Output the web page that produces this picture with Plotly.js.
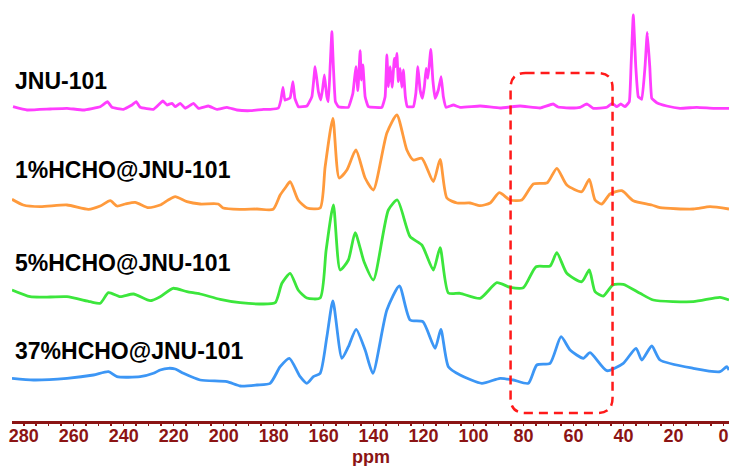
<!DOCTYPE html>
<html><head><meta charset="utf-8">
<script src="https://cdn.plot.ly/plotly-3.0.1.min.js"></script>
<style>html,body{margin:0;padding:0;background:#fff}#chart{width:729px;height:466px}</style>
</head><body><div id="chart"></div>
<script>
// Series names
const seriesNames = ["JNU-101", "1%HCHO@JNU-101", "5%HCHO@JNU-101", "37%HCHO@JNU-101"];
const seriesColors = ["#FF3DFF", "#FF9A3C", "#3CE63C", "#3C96F5"];

// JNU-101 (chemical shift in ppm, relative intensity)
const ppmJNU = [284.3,278.7,269.4,262.7,256.1,249.4,246.5,244.7,240.1,236.7,235,233.4,228.1,224.3,222.7,220.7,219.4,217.4,215.4,212.1,210.1,206.1,202.7,198.7,194.7,189.4,184.1,181.4,178.1,177.1,176.3,175.5,174.5,173.4,172.3,171.5,170.1,166.7,164.7,163.4,162.1,161.1,160.3,159.7,158.7,158.1,157.4,156.7,156.1,155.3,154.1,150.1,148.3,147.1,146.3,145.4,144.9,144.3,143.4,142.1,136.7,135.4,134.7,134.1,133.4,132.6,131.7,131.3,130.7,130.1,129.4,128.7,128.1,127.3,126.5,124.1,123.1,122.3,121.4,120.5,119.7,119,118.3,117.1,116.3,115.4,114.1,113,112.1,111,108.1,105.4,97.4,89.4,81.4,73.4,68.2,66.2,61.4,57.4,54.7,52.1,46.7,44.5,42.7,41.1,39.4,37.7,37,36.1,35.1,34.1,32.7,31.4,30.5,29.5,28.7,26.7,22.7,17.4,10.7,4.1,-2.2];
const intJNU = [0.3,-3,-2,-1.3,-3,0.3,5.3,-0.3,-2.3,2,5.3,-0.3,-2.3,6,2,3.7,0.3,3.7,-1.3,3.7,-1.3,1,-2.3,-0.3,-3,-3.7,-2.3,-2.3,-1,7,19.7,7,7.7,9.3,25.3,8.7,0.3,1,10.3,40.3,15.3,7,20.3,32,10.3,5.3,40.3,75.3,40.3,5.3,0.3,-0.3,13.7,40.3,16.3,56.3,27,42,10.3,0.3,-0.3,10.3,52,20.3,40.3,19.7,48.7,40.3,53.7,25.3,38.7,19.7,37,10.3,0.3,0.3,13.7,40.3,17,8.7,20.3,38.7,28.7,57.7,27,8.7,17,30.3,10.3,-0.3,2,-0.3,1,-1,1,-1,3,0,-1,-0.3,3,-1.3,-0.3,3.7,0.3,3,0.3,5.3,40.3,92,40.3,10.3,7.7,40.3,74.7,40.3,8.7,4.3,1,-1.3,-0.3,-1.3,-1.3];

// 1%HCHO@JNU-101
const ppm1 = [284.7,280.2,273.4,262.7,254.1,249.4,245.4,242.7,239.4,235.4,230.1,225.4,222.2,219.4,214.7,209.4,202.2,200.2,193.4,186.7,180.2,177.4,175.4,173.4,170.2,166.6,161.4,159.4,156.3,153.8,150.7,147.1,143.4,140.1,134.7,130.7,126.7,124.1,120.7,116.1,113.4,110.7,106.6,101.4,97.4,93.4,89.7,85.4,80.7,76.1,70.5,66.7,62.7,56.7,53.7,51.4,48.7,45.4,40.7,36.1,28.7,25.4,12.1,5.4,-2.2];
const int1 = [9.7,4,2.3,4,-0.3,3,8.3,3,5,6.7,1.3,4,9,12.3,7.3,5,5,1,-0.3,0,-0.3,14,21,27.3,9,1,1,42.3,90.7,31,39,59,31,19,76,94,59,49,50.7,27.3,49.7,11,6,6,3.3,6,16.3,9,9,25,26.3,40.7,24,17.3,29.7,9,5,15,18.3,8.3,4,1.3,0,2.3,0];

// 5%HCHO@JNU-101
const ppm5 = [284.7,277.4,269.4,262.7,253.4,249.4,246.1,241.4,236.1,229.4,225.4,220.3,214.7,209.4,201.4,193.4,185.4,179.4,176.7,173.4,170.2,166.7,161.4,159,156.1,153.4,150.1,147.4,143.8,140.1,134.1,130.5,125.4,120.7,116.1,113.4,110.1,105.4,97.4,90.7,85.4,80.1,75,69.4,66.7,62.7,56.7,53.7,51.4,48.1,44.3,40.1,33.4,28.1,12.1,1.4,-2.2];
const int5 = [10,3.3,3,3.3,-1.7,-3.3,7.3,3.3,6,-0.7,3.3,11.7,8.3,6,0.7,-2.7,-4,-2.7,16.7,26.7,10,2,2,50,95,30,40,67.3,38,20,90,100,63.3,55,30,52.3,7,6.7,1.7,17.3,12.7,12.3,33.3,34,47.3,26.7,18.3,30,8.3,4,15,15.7,6.7,0,-1.7,2.7,0];

// 37%HCHO@JNU-101
const ppm37 = [284.7,276.1,262.7,252.1,246.1,242.7,233.4,228.1,225.4,222.1,219.4,216.1,209.4,198.7,193.4,186.7,181.4,177.4,173.7,169.4,166.7,164.1,161.4,158.7,156.3,152.7,150.1,147,143.4,140.3,134.7,129.7,125.4,120.3,115.4,113.1,110.1,105.4,96.7,89.4,84.1,78.1,74.7,69.4,65,61.4,56.1,53.4,46.7,40.1,35,32.7,28.7,25.4,12.1,1.4,-1.3,-2.2];
const int37 = [1.7,0,1.7,5,8.3,3.3,3.3,6.7,10,11.7,11,6.7,0,-1.7,-6,-5,-3.3,13.3,21.7,3.3,-3.3,3.3,6.7,43.3,79,21.7,33.3,50.7,30,6.7,70,94,60,58.3,31.7,50.7,13.3,5,-3.3,1.7,0,-3.3,15,16.7,43.3,30,21.7,27.3,9.3,16.7,31.7,20,34,20,11.7,8.3,13.3,10];

// Highlighted region (ppm)
const boxPpm = [85.2, 44.4];
const tickVals = [280,260,240,220,200,180,160,140,120,100,80,60,40,20,0];

const ppmSets = [ppmJNU, ppm1, ppm5, ppm37];
const intSets = [intJNU, int1, int5, int37];
const offsets = [314, 212, 121, 41];
const labelY = [340, 251, 158, 70];

const axisRed = "#8B1414";
const FONT = "Liberation Sans, Arial, sans-serif";
const traces = ppmSets.map((p, i) => ({
  type: "scatter", mode: "lines", x: p,
  y: intSets[i].map(v => v + offsets[i]),
  line: {color: seriesColors[i], width: 2.8, shape: "spline", smoothing: i === 0 ? 0.3 : 0.6},
  name: seriesNames[i], hoverinfo: "skip"
}));
// empty trace so the tick-mark axis is drawn
traces.push({type: "scatter", mode: "lines", x: [], y: [], xaxis: "x2", hoverinfo: "skip"});

const x1 = boxPpm[0], x2 = boxPpm[1], yt = 348, yb = 8, rx = 6, ry = 15;
const boxPath = `M ${x1-rx},${yt} L ${x2+rx},${yt} Q ${x2},${yt} ${x2},${yt-ry} L ${x2},${yb+ry} Q ${x2},${yb} ${x2+rx},${yb} L ${x1-rx},${yb} Q ${x1},${yb} ${x1},${yb+ry} L ${x1},${yt-ry} Q ${x1},${yt} ${x1-rx},${yt} Z`;

const xRange = [284.7, -2.2];
const layout = {
  width: 729, height: 466,
  margin: {l: 12, r: 0, t: 0, b: 45},
  paper_bgcolor: "#fff", plot_bgcolor: "#fff",
  showlegend: false,
  xaxis: {
    range: xRange, showgrid: false, zeroline: false,
    showline: true, linecolor: axisRed, linewidth: 2.5,
    ticks: "", ticklabelstandoff: -3,
    tickvals: tickVals, ticktext: tickVals.map(v => "<b>" + v + "</b>"),
    tickfont: {family: FONT, size: 18, color: axisRed, weight: 700},
    fixedrange: true
  },
  xaxis2: {
    range: xRange, overlaying: "x", anchor: "y", side: "bottom",
    showgrid: false, zeroline: false, showline: false, showticklabels: false,
    ticks: "outside", tickmode: "linear", tick0: 0, dtick: 5, ticklen: 4, tickwidth: 1.5, tickcolor: axisRed,
    fixedrange: true
  },
  yaxis: {range: [0, 421], visible: false, fixedrange: true},
  shapes: [{type: "path", xref: "x", yref: "y", path: boxPath,
    line: {color: "#FF1A1A", width: 2.5, dash: "9px,6px"}, fillcolor: "rgba(0,0,0,0)"}],
  annotations: seriesNames.map((n, i) => ({
    text: "<b>" + n + "</b>", xref: "x", yref: "y", x: 284.2, y: labelY[i],
    xanchor: "left", yanchor: "middle", showarrow: false,
    font: {family: FONT, size: 23, color: "#000"}
  })).concat([{
    text: "<b>ppm</b>", xref: "paper", yref: "paper", x: 0.5, y: -0.085,
    xanchor: "center", yanchor: "middle", showarrow: false, borderpad: 0,
    font: {family: FONT, size: 18, color: axisRed, weight: 700}
  }])
};
Plotly.newPlot("chart", traces, layout, {staticPlot: true, displayModeBar: false});
</script></body></html>
